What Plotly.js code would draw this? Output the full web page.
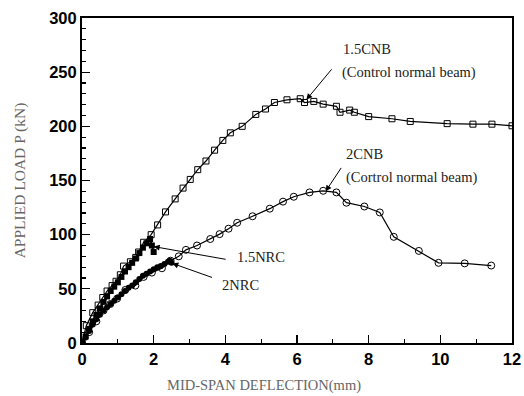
<!DOCTYPE html>
<html>
<head>
<meta charset="utf-8">
<script src="https://cdn.plot.ly/plotly-3.0.1.min.js"></script>
<style>html,body{margin:0;padding:0;background:#fff;}#chart{width:524px;height:396px;}</style>
</head>
<body>
<div id="chart"></div>
<script>
// 1.5CNB (Control normal beam) - open squares
var cnb15X = [0,0.12,0.3,0.45,0.58,0.7,0.84,0.95,1.07,1.16,1.35,1.5,1.58,1.72,1.93,2.11,2.33,2.6,2.82,3.02,3.23,3.46,3.7,3.93,4.14,4.47,4.85,5.12,5.37,5.72,6.09,6.21,6.47,6.73,7.1,7.2,7.47,7.6,8.0,8.65,9.16,10.19,10.91,11.44,12.0];
var cnb15Y = [0,16,28,35,42,48,53,57,63,71,75,79,84,93,100,109,121,133,143,151,160,168,178,187,194,200,211,216,222,224.5,225.5,222,223,220.5,218.5,213,215,213,209,207,204.5,202.5,202,202,200.5];
// 2CNB (Control normal beam) - open circles
var cnb2X = [0,0.2,0.4,0.6,0.79,0.98,1.21,1.49,1.72,1.95,2.23,2.47,2.7,2.9,3.21,3.58,3.84,4.09,4.33,4.76,5.24,5.61,5.91,6.35,6.73,7.1,7.38,7.88,8.31,8.7,9.4,9.95,10.68,11.42];
var cnb2Y = [0,10,20,30,36,41,49,53,61,65,69,76,80,86,90,96,100.5,105.5,111,117,124,130.5,135,139,140.5,139,129.5,126,120.5,98,85,74,73.5,71.5];
// 1.5NRC - filled squares
var nrc15X = [0,0.1,0.2,0.3,0.4,0.5,0.6,0.7,0.8,0.9,1.0,1.1,1.2,1.3,1.4,1.5,1.6,1.7,1.8,1.9,1.95,2.0];
var nrc15Y = [0,6,13,20,26,32,38,43,48,52,56,61,66,70,74,78,83,88,92,96,90,84];
// 2NRC - filled circles
var nrc2X = [0,0.1,0.2,0.3,0.4,0.5,0.6,0.7,0.8,0.9,1.0,1.1,1.2,1.3,1.4,1.5,1.6,1.7,1.8,1.9,2.0,2.1,2.2,2.3,2.4,2.45,2.5];
var nrc2Y = [0,5,11,17,22,26,30,33,36,39,42,45,48,51,53,56,59,62,64,66,68,70,71,73,75,76,74];

var xTicks = [0,2,4,6,8,10,12];
var yTicks = [0,50,100,150,200,250,300];

var serif = 'Liberation Serif, Times New Roman, serif';
var sans = 'Liberation Sans, Arial, sans-serif';

var traces = [
  {x: cnb15X, y: cnb15Y, mode: 'lines+markers', line: {color: '#000', width: 1.2},
   marker: {symbol: 'square-open', size: 6, color: '#000', line: {width: 1}}},
  {x: cnb2X, y: cnb2Y, mode: 'lines+markers', line: {color: '#000', width: 1.2},
   marker: {symbol: 'circle-open', size: 7, color: '#000', line: {width: 1}}},
  {x: nrc15X, y: nrc15Y, mode: 'lines+markers', line: {color: '#000', width: 2},
   marker: {symbol: 'square', size: 6, color: '#000'}},
  {x: nrc2X, y: nrc2Y, mode: 'lines+markers', line: {color: '#000', width: 2},
   marker: {symbol: 'circle', size: 6, color: '#000'}}
];

function arrow(tx, ty, ax, ay) {
  return {x: tx, y: ty, ax: ax, ay: ay, xref: 'x', yref: 'y', axref: 'x', ayref: 'y',
    text: '', showarrow: true, arrowhead: 2, arrowsize: 1.2, arrowwidth: 1, arrowcolor: '#000'};
}
function label(x, y, txt) {
  return {x: x, y: y, xref: 'x', yref: 'y', text: txt, showarrow: false,
    xanchor: 'left', yanchor: 'middle', font: {family: serif, size: 14.5, color: '#222'}};
}

var layout = {
  width: 524, height: 396,
  margin: {l: 82, r: 12, t: 18, b: 53},
  paper_bgcolor: '#fff', plot_bgcolor: '#fff',
  showlegend: false,
  xaxis: {
    range: [0, 12], tickvals: xTicks, ticktext: xTicks.map(String),
    ticks: 'inside', ticklen: 8, tickwidth: 1.2, tickcolor: '#000',
    minor: {dtick: 1, ticks: 'inside', ticklen: 4, tickcolor: '#000'},
    showline: true, linecolor: '#000', linewidth: 2, mirror: true,
    showgrid: false, zeroline: false,
    tickfont: {family: sans, size: 16.5, color: '#000', weight: 'bold'}
  },
  yaxis: {
    range: [0, 300], tickvals: yTicks, ticktext: yTicks.map(String),
    ticks: 'inside', ticklen: 8, tickwidth: 1.2, tickcolor: '#000',
    minor: {dtick: 10, ticks: 'inside', ticklen: 4, tickcolor: '#000'},
    showline: true, linecolor: '#000', linewidth: 2, mirror: true,
    showgrid: false, zeroline: false,
    tickfont: {family: sans, size: 16.5, color: '#000', weight: 'bold'},
    title: {text: 'APPLIED LOAD P (kN)', font: {family: serif, size: 15.5, color: '#666'}, standoff: 20}
  },
  annotations: [
    label(7.22, 271, '1.5CNB'),
    label(7.2, 249.5, '(Control normal beam)'),
    arrow(6.26, 224.5, 7.0, 254),
    label(7.3, 174.5, '2CNB'),
    label(7.3, 153, '(Cortrol normal beam)'),
    arrow(6.8, 140, 7.26, 163),
    label(4.28, 79.5, '1.5NRC'),
    arrow(2.0, 89, 4.05, 77),
    label(3.86, 53.5, '2NRC'),
    arrow(2.52, 73.5, 3.67, 60),
    {
      xref: 'paper', yref: 'paper', x: (264 - 82) / 430, y: -(385 - 343) / 325,
      text: 'MID-SPAN DEFLECTION(mm)', showarrow: false, xanchor: 'center', yanchor: 'middle',
      font: {family: serif, size: 14.5, color: '#666'}
    }
  ]
};

Plotly.newPlot('chart', traces, layout, {staticPlot: true, displayModeBar: false});
</script>
</body>
</html>
